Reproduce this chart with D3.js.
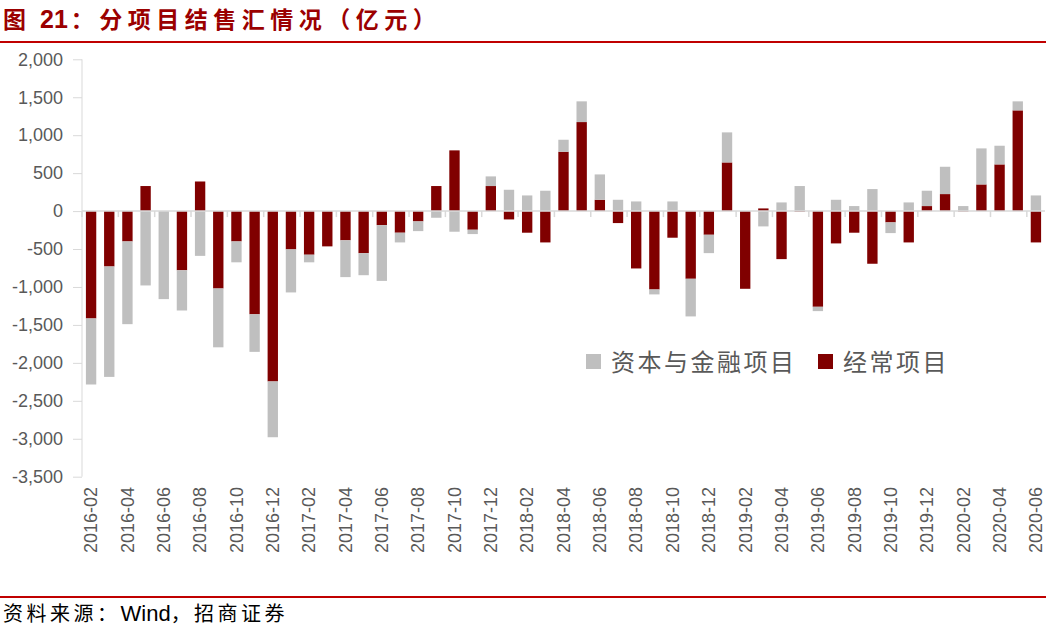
<!DOCTYPE html>
<html>
<head>
<meta charset="utf-8">
<script src="https://cdn.jsdelivr.net/npm/d3@7"></script>
<style>
  body { margin: 0; background: #fff; }
  svg { display: block; }
</style>
</head>
<body>
<div id="chart"></div>
<script>
// months 2016-02 .. 2020-06
var months = ["2016-02","2016-03","2016-04","2016-05","2016-06","2016-07","2016-08","2016-09","2016-10","2016-11","2016-12",
  "2017-01","2017-02","2017-03","2017-04","2017-05","2017-06","2017-07","2017-08","2017-09","2017-10","2017-11","2017-12",
  "2018-01","2018-02","2018-03","2018-04","2018-05","2018-06","2018-07","2018-08","2018-09","2018-10","2018-11","2018-12",
  "2019-01","2019-02","2019-03","2019-04","2019-05","2019-06","2019-07","2019-08","2019-09","2019-10","2019-11","2019-12",
  "2020-01","2020-02","2020-03","2020-04","2020-05","2020-06"];

// 经常项目
var current = [-1415,-730,-400,330,0,-780,390,-1020,-400,-1360,-2245,
  -505,-575,-465,-385,-555,-185,-285,-136,330,800,-246,330,
  -110,-285,-413,782,1173,149,-158,-756,-1033,-351,-892,-312,
  641,-1024,35,-633,-8,-1261,-426,-285,-694,-149,-413,66,
  224,-5,351,615,1327,-413];

// 资本与金融项目
var capital = [-870,-1455,-1090,-980,-1160,-530,-590,-775,-275,-495,-735,
  -567,-100,0,-485,-290,-735,-128,-128,-88,-272,-57,127,
  281,206,268,158,273,334,149,127,-65,127,-496,-242,
  396,0,-202,114,330,-57,149,66,290,-141,114,202,
  360,66,475,246,119,206];

var yTicks = [2000,1500,1000,500,0,-500,-1000,-1500,-2000,-2500,-3000,-3500];

var W = 1046, H = 628;
var svg = d3.select("#chart").append("svg").attr("width", W).attr("height", H);

var font = "'Liberation Sans', Arial, 'Noto Sans CJK SC', sans-serif";
var cjk = "'Noto Sans CJK SC', sans-serif";

// title + rules
var title = svg.append("text")
    .attr("x", 3).attr("y", 28)
    .style("font-family", cjk).style("font-weight", "bold")
    .style("font-size", "23px").style("fill", "#9b0000");
title.append("tspan").style("letter-spacing", "6px").text("图");
title.append("tspan").attr("dx", 8).style("font-family", font).style("font-size", "25px")
    .style("letter-spacing", "0px").text("21");
title.append("tspan").attr("dx", 3).style("letter-spacing", "5.5px").text("：分项目结售汇情况（亿元）");

svg.append("line").attr("x1", 0).attr("x2", W).attr("y1", 42).attr("y2", 42)
    .style("stroke", "#c00000").style("stroke-width", 2);
svg.append("line").attr("x1", 0).attr("x2", W).attr("y1", 597).attr("y2", 597)
    .style("stroke", "#c00000").style("stroke-width", 2);

var src = svg.append("text")
    .attr("x", 3).attr("y", 621)
    .style("font-family", cjk).style("font-size", "20px").style("fill", "#000");
src.append("tspan").style("letter-spacing", "3.5px").text("资料来源：");
src.append("tspan").style("font-family", font).style("font-size", "22px").text("Wind");
src.append("tspan").style("letter-spacing", "3.5px").text("，招商证券");

var x = d3.scaleBand().domain(months).range([82, 1045]).paddingInner(0.43).paddingOuter(0.215);
var y = d3.scaleLinear().domain([-3500, 2000]).range([476.7, 59.3]);

var table = months.map(function(m, i) { return {month: m, current: current[i], capital: capital[i]}; });
var series = d3.stack().keys(["current", "capital"]).offset(d3.stackOffsetDiverging)(table);
var color = {current: "#800000", capital: "#bfbfbf"};

// y axis
var comma = d3.format(",");
var yAxis = d3.axisLeft(y).tickValues(yTicks).tickSize(9).tickPadding(5)
    .tickFormat(function(d) { return comma(d).replace("\u2212", "-"); });
var gy = svg.append("g").attr("transform", "translate(82,0)").call(yAxis);
gy.select(".domain").style("stroke", "#d9d9d9").attr("d", "M0," + y(2000) + "V" + y(-3500));
gy.selectAll(".tick line").style("stroke", "#d9d9d9");
gy.selectAll(".tick text").style("font-family", font).style("font-size", "18px")
    .style("fill", "#595959").attr("x", -19);

// x ticks at every second category boundary
var step = x.step();
var left = x(months[0]) - step * x.paddingInner() / 2;
var bounds = d3.range(0, months.length + 1, 2).map(function(i) { return left + i * step; });
svg.append("g").selectAll("line").data(bounds).enter().append("line")
    .attr("x1", function(d) { return d; })
    .attr("x2", function(d) { return d; })
    .attr("y1", y(0)).attr("y2", y(0) + 6)
    .style("stroke", "#d9d9d9").style("stroke-width", 1.5);

// bars
svg.append("g").selectAll("g").data(series).enter().append("g")
    .style("fill", function(s) { return color[s.key]; })
    .selectAll("rect").data(function(s) { return s; }).enter().append("rect")
    .attr("x", function(d) { return x(d.data.month); })
    .attr("width", x.bandwidth())
    .attr("y", function(d) { return y(Math.max(d[0], d[1])); })
    .attr("height", function(d) { return Math.abs(y(d[0]) - y(d[1])); });

// zero line
svg.append("line").attr("x1", 82).attr("x2", 1045).attr("y1", y(0)).attr("y2", y(0))
    .style("stroke", "#d9d9d9").style("stroke-width", 1.5);

// x labels
svg.append("g").selectAll("text").data(months.filter(function(d, i) { return i % 2 === 0; }))
    .enter().append("text")
    .attr("transform", function(d) { return "translate(" + (x(d) + x.bandwidth() / 2) + ",487) rotate(-90)"; })
    .attr("dy", "0.35em")
    .style("text-anchor", "end")
    .style("font-family", font).style("font-size", "18px").style("fill", "#595959")
    .text(function(d) { return d; });

// legend
var legend = [
  {key: "capital", label: "资本与金融项目", x: 586},
  {key: "current", label: "经常项目", x: 818}
];
var lg = svg.append("g").selectAll("g").data(legend).enter().append("g")
    .attr("transform", function(d) { return "translate(" + d.x + ",354)"; });
lg.append("rect").attr("width", 15).attr("height", 15)
    .style("fill", function(d) { return color[d.key]; });
lg.append("text").attr("x", 25).attr("y", 17)
    .style("font-family", cjk).style("font-size", "24px").style("letter-spacing", "2.5px").style("fill", "#595959")
    .text(function(d) { return d.label; });
</script>
</body>
</html>
